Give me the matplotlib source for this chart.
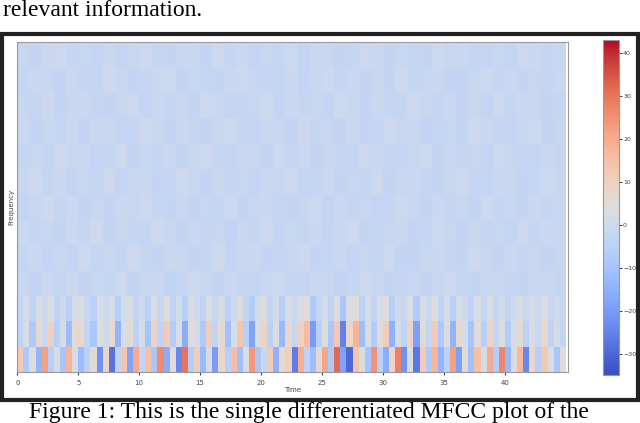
import numpy as np
import matplotlib.pyplot as plt

# bottom three MFCC-delta rows, 0.5 s bins (90 bins, 0..45)
row0 = [12, -8, 4, -14, 22, -6, 3, -10, 18, 2, -12, -5, 6, -22, 9, -28, -4, 14, -18, 20,
        -3, 15, -9, 26, -16, 5, -24, 30, -7, 11, -13, 2, -20, 8, -6, 16, -11, 3, 24, -9,
        -2, 12, -15, 7, 10, -26, 19, -4, -12, 6, 21, -8, 32, -18, -30, 14, 4, -10, 25, -5,
        -16, 9, 28, -22, 3, -27, 12, -8, 18, -14, -5, 22, -19, 6, -11, 15, 2, 20, -7, 27,
        -13, 4, 17, -24, 8, -6, 13, 3, -9, 5]
row1 = [-4, 3, -8, 6, -2, 10, -6, 2, -12, 5, 8, -3, -9, 4, -1, 7, -14, 3, 6, -5,
        2, -10, 9, -4, 12, -7, 3, -16, 5, 1, -8, 11, -3, 6, -11, 2, 14, -6, -18, 4,
        9, -5, 3, -13, 7, -2, 10, 16, -20, -6, 4, -9, 13, -25, 8, 18, -12, 3, -7, 5,
        11, -15, 2, -4, 9, -19, 6, -3, 12, -8, 4, -14, 7, 2, -10, 5, -6, 9, -3, 4,
        -7, 2, 6, -5, 3, -2, 8, -4, 1, -3]
row2 = [-3, 1, -4, 2, -1, 3, -4, 0, -5, 2, 3, -2, -5, 1, -1, 2, -6, 1, 2, -3,
        0, -5, 3, -2, 4, -4, 1, -6, 2, 0, -4, 3, -2, 2, -5, 0, 4, -3, -7, 1,
        3, -3, 1, -6, 2, -1, 3, 5, -8, -3, 1, -4, 4, -9, 3, 5, -5, 1, -3, 2,
        3, -6, 0, -2, 3, -7, 2, -2, 4, -4, 1, -6, 2, 0, -4, 2, -3, 3, -2, 1,
        -3, 0, 2, -2, 1, -1, 3, -2, 0, -2]
# upper ten rows, 1 s bins (45 bins), nearly flat
upper = [
    [-2, -3, -1.5, -2.5, -1, -3, -2, -2.5, -1, -3, -2, -1.5, -3.5, -2.5, -1, -2, -3, -1.5, -2.5, -3, -2, -1, -2.5, -3, -1.5, -2, -3.5, -2.5, -1, -2, -3, -2.5, -1.5, -3, -2, -1, -2.5, -3, -2, -1.5, -2.5, -3, -2, -1.5, -2.5],
    [-2.5, -1.5, -3, -2, -3, -1, -2.5, -2, -3, -1, -2.5, -3, -1.5, -2, -3, -2.5, -1, -3, -2, -1.5, -3, -2.5, -2, -1, -3, -2.5, -1.5, -3, -2, -2.5, -1, -3, -3, -2, -1.5, -2.5, -3, -1, -2, -3, -1.5, -2.5, -2, -3, -2],
    [-1.5, -2.5, -2, -3, -1.5, -2.5, -1, -3, -2, -2.5, -3, -1, -2, -3, -1.5, -2.5, -2, -3.5, -1.5, -2.5, -1, -3, -2, -2.5, -1.5, -3, -2, -1, -3, -2.5, -2, -1.5, -3, -2.5, -1, -2, -3, -1.5, -2.5, -2, -3, -1, -2.5, -1.5, -2],
    [-3, -2, -1, -2.5, -1.5, -3, -2, -3, -1.5, -2, -1, -2.5, -3, -1.5, -3, -2, -2.5, -1, -3, -2, -1.5, -2.5, -3, -2, -1, -3, -1.5, -2.5, -2, -3, -2.5, -1, -2, -3, -1.5, -2.5, -2, -3, -1, -2.5, -2, -3, -1.5, -2.5, -2],
    [-2, -1, -2.5, -1.5, -3, -2, -2.5, -1, -3, -2, -1.5, -3, -2.5, -1, -2, -3, -1.5, -2.5, -2, -3, -1.5, -2, -1, -3, -2.5, -1.5, -3, -2, -2.5, -1, -3, -2, -1.5, -2.5, -3, -2, -1, -2.5, -3, -1.5, -2, -3, -2.5, -1, -2],
    [-2.5, -2, -3, -1, -2, -1.5, -3, -2.5, -1, -3, -2, -2.5, -1.5, -3, -2, -1, -2.5, -3, -1.5, -2, -3, -1, -2.5, -1.5, -3, -2, -2.5, -3, -1, -1.5, -2.5, -3, -2, -1, -3, -1.5, -2.5, -2, -3, -1, -2, -2.5, -3, -1.5, -2.5],
    [-1.5, -3, -2, -2.5, -1, -3, -1.5, -2, -3, -2.5, -1, -2, -3, -1.5, -2.5, -3, -2, -1, -2.5, -3, -1.5, -2, -3, -1, -2.5, -2, -3, -1.5, -3, -2.5, -1, -2, -1.5, -3, -2.5, -2, -3, -1, -1.5, -2.5, -3, -2, -1, -3, -2],
    [-2, -2.5, -1, -3, -2, -1.5, -2.5, -3, -2, -1, -3, -1.5, -2.5, -2, -3, -1, -1.5, -3, -2.5, -2, -1, -3, -1.5, -2.5, -2, -3, -1, -2, -3, -1.5, -2.5, -3, -1, -2, -2.5, -1.5, -3, -2, -3, -1, -2.5, -1.5, -2, -3, -2.5],
    [-2.5, -1.5, -2, -3, -1.5, -2.5, -3, -1, -2, -3, -2.5, -1.5, -1, -3, -2, -2.5, -3, -1.5, -1, -2, -2.5, -3, -1.5, -3, -2, -1, -2.5, -1.5, -3, -2, -3, -1, -2.5, -2, -1.5, -3, -3, -2, -1, -2.5, -1.5, -3, -2, -2.5, -1.5],
    [-2, -3, -1.5, -1, -2.5, -2, -3, -1.5, -3, -2, -1, -2.5, -3, -1.5, -2, -3, -1, -2.5, -1.5, -3, -2, -2.5, -1, -3, -1.5, -2, -3, -2.5, -1, -1.5, -3, -2, -2.5, -3, -1, -2, -1.5, -2.5, -3, -2, -3, -1, -1.5, -2.5, -2],
]

fig = plt.figure(figsize=(6.4, 4.23), dpi=100)
fig.text(0.005, 1.0, "relevant information.", family="Liberation Serif", fontsize=17, va="top")
fig.text(0.045, 0.0, "Figure 1: This is the single differentiated MFCC plot of the",
         family="Liberation Serif", fontsize=17, va="bottom")
# dark frame around the pasted figure
fig.patches.append(plt.Rectangle((0.003, 0.055), 0.994, 0.865, transform=fig.transFigure,
                                 fill=False, lw=3, ec="#222222"))

ax = fig.add_axes([0.027, 0.12, 0.861, 0.78])
cax = fig.add_axes([0.942, 0.113, 0.025, 0.792])
kw = dict(cmap="coolwarm", vmin=-35, vmax=43, shading="flat")
x_fine = np.arange(0, 45.01, 0.5)
x_coarse = np.arange(0, 46, 1)
for i, r in enumerate([row0, row1, row2]):
    m = ax.pcolormesh(x_fine, [i, i + 1], np.array([r]), **kw)
for j, r in enumerate(upper):
    ax.pcolormesh(x_coarse, [j + 3, j + 4], np.array([r]), **kw)
ax.set_xlim(0, 45.2)
ax.set_ylim(0, 13)
ax.set_xticks(np.arange(0, 41, 5))
ax.set_yticks([])
ax.tick_params(labelsize=5, colors="#444444", length=2)
ax.set_xlabel("Time", fontsize=5, color="#444444", labelpad=1)
ax.set_ylabel("Frequency", fontsize=5, color="#444444", labelpad=2)
for s in ax.spines.values():
    s.set_color("#999999")
cb = fig.colorbar(m, cax=cax, ticks=np.arange(-30, 41, 10))
cb.ax.tick_params(labelsize=4.5, colors="#444444", length=2, pad=1)
cb.outline.set_edgecolor("#999999")
fig.savefig("out.png", dpi=100)
